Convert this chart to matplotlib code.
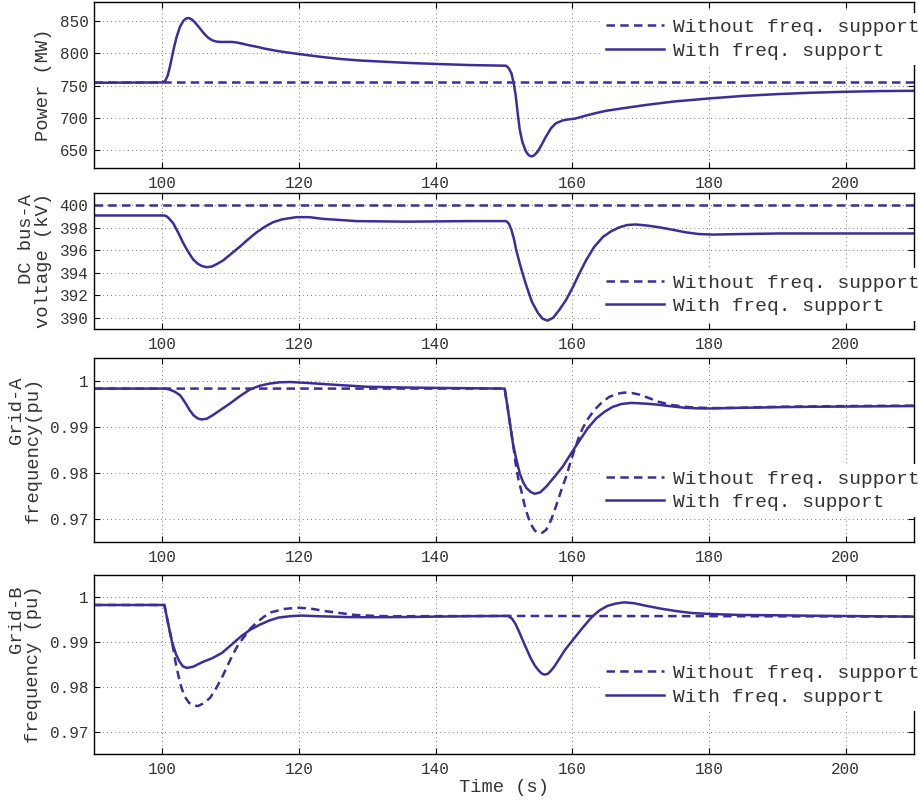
import numpy as np
import matplotlib
matplotlib.use("Agg")
import matplotlib.pyplot as plt
from matplotlib.ticker import FuncFormatter

plt.rcParams['font.family'] = ['Liberation Mono', 'DejaVu Sans Mono']

# data read from the reference
# panel 1: power (MW)
t_p_without = [90, 210]
p_without = [755, 755]
t_p_with = [90, 100, 100.4, 100.8, 101.1, 101.4, 101.7, 102.1, 102.6, 103.1, 103.5, 103.9,
            104.3, 104.8, 105.5, 106.1, 106.7, 107.3, 107.9, 108.7, 109.5, 110.3, 110.9, 111.8,
            112.8, 113.8, 115, 116.5, 118, 120.1, 123, 126, 129, 131.8, 136, 140.6, 145, 150.3,
            150.7, 151.1, 151.4, 151.7, 152, 152.3, 152.7, 153.2, 153.6, 154, 154.4, 154.9,
            155.4, 156.1, 156.9, 157.6, 158.6, 159.4, 160.3, 161, 162, 163.5, 165, 167.5, 170.8,
            175, 180.5, 185, 190.3, 195, 200, 205, 210]
p_with = [754.5, 755, 757, 766, 779, 794, 809, 826, 842, 851, 854.5, 855,
          853, 848, 839, 831, 824.5, 820.5, 818.5, 817.8, 818, 817.8, 817, 815,
          812.5, 810.5, 807.5, 804.5, 802, 799, 795, 791.5, 789, 787.5, 785.3, 783.5, 782, 781,
          777, 769, 755, 736, 708, 682, 662, 648, 642, 640, 641.5, 647,
          656, 670, 684, 691.5, 696, 697.5, 698.5, 700.5, 703.5, 707.5, 711, 715, 720,
          725.5, 730.5, 734, 737, 739, 740.5, 741.5, 742]

# panel 2: DC bus-A voltage (kV)
t_v_without = [90, 210]
v_without = [400, 400]
t_v_with = [90, 100.3, 100.7, 101.1, 101.6, 102.3, 103.1, 103.8, 104.5, 105.2, 105.8, 106.5,
            107.2, 107.9, 108.9, 110, 111.3, 112.5, 113.8, 115, 116.2, 117.5, 119.6, 121.5,
            123.5, 126, 128.4, 135.7, 145, 150.3, 150.7, 151.1, 151.5, 151.8, 152.5, 153.3,
            154.1, 155, 155.7, 156.4, 157.2, 158.1, 159.1, 160.1, 161, 162, 163.2, 164.5,
            165.7, 166.9, 168, 169.3, 171, 172.7, 174.5, 176.6, 178.5, 180.5, 185, 190.3, 210]
v_with = [399.1, 399.1, 399.0, 398.75, 398.4, 397.6, 396.6, 395.85, 395.2, 394.8, 394.6, 394.5,
          394.55, 394.75, 395.1, 395.65, 396.3, 396.95, 397.6, 398.1, 398.5, 398.75, 398.95, 398.95,
          398.8, 398.7, 398.6, 398.55, 398.6, 398.6, 398.4, 397.8, 396.9, 396.0, 394.4, 392.8,
          391.4, 390.4, 389.9, 389.75, 390.0, 390.7, 391.6, 392.75, 393.9, 395.1, 396.3, 397.2,
          397.7, 398.05, 398.25, 398.3, 398.2, 398.05, 397.85, 397.6, 397.45, 397.4, 397.45,
          397.5, 397.5]

# panel 3: grid-A frequency (pu)
t_fa_without = [90, 150.1, 150.5, 150.9, 151.3, 151.7, 152.1, 152.5, 153, 153.5, 154, 154.5,
                155, 155.6, 156.2, 156.9, 157.6, 158.4, 159.1, 159.7, 160.3, 160.9, 161.5,
                162.3, 163.2, 164.3, 165.4, 166.5, 167.6, 168.7, 169.8, 171.2, 172.7, 174.5,
                176.6, 178.5, 180.5, 185, 190, 200, 210]
fa_without = [0.99835, 0.99835, 0.9945, 0.9905, 0.9866, 0.9822, 0.9787, 0.97634, 0.9731,
              0.97056, 0.9687, 0.9675, 0.96697, 0.9670, 0.96768, 0.9698, 0.97273, 0.9763,
              0.97922, 0.9822, 0.985, 0.9875, 0.9897, 0.9918, 0.99366, 0.9953, 0.99654, 0.9972,
              0.99749, 0.9974, 0.99705, 0.9963, 0.99545, 0.9948, 0.99437, 0.9942, 0.9941,
              0.9942, 0.9944, 0.99455, 0.99465]
t_fa_with = [90, 100.5, 101.1, 101.8, 102.6, 103.3, 104, 104.6, 105.2, 105.7, 106.5, 107.4,
             108.6, 109.9, 111.3, 112.8, 114.2, 115.7, 117.2, 118.7, 121, 123, 125, 130, 135,
             140, 150.1, 150.5, 150.9, 151.3, 151.8, 152.3, 152.8, 153.3, 153.9, 154.5, 155.3,
             156.2, 157.4, 158.6, 159.8, 161.1, 162.3, 163.5, 164.7, 165.9, 167.2, 168.6,
             170.5, 172.3, 174.5, 176.6, 178.5, 180.1, 184.4, 190, 195, 210]
fa_with = [0.99835, 0.99835, 0.9981, 0.9977, 0.9969, 0.9954, 0.99366, 0.9925, 0.99185, 0.99164,
           0.9918, 0.99258, 0.9938, 0.99511, 0.99665, 0.99814, 0.99895, 0.99944, 0.99972,
           0.99978, 0.9996, 0.9994, 0.9992, 0.99875, 0.9986, 0.9985, 0.99835, 0.9945, 0.9905,
           0.98645, 0.9830, 0.97996, 0.9780, 0.97671, 0.9759, 0.97548, 0.9758, 0.97706, 0.9792,
           0.98139, 0.9842, 0.98716, 0.9898, 0.99186, 0.9933, 0.99437, 0.9950, 0.99524, 0.9951,
           0.99489, 0.9945, 0.99416, 0.99405, 0.99403, 0.99416, 0.9943, 0.9944, 0.99455]

# panel 4: grid-B frequency (pu)
t_fb_without = [90, 100.3, 100.8, 101.4, 102, 102.4, 102.8, 103.3, 103.9, 104.5, 105.2, 106,
                107, 107.8, 108.7, 109.5, 110.3, 111.1, 112, 112.8, 113.7, 114.8, 115.9, 117.8,
                119.8, 121.7, 123.7, 126, 128.2, 130.5, 133.2, 150, 180, 210]
fb_without = [0.9983, 0.9983, 0.9945, 0.9902, 0.98496, 0.9822, 0.97978, 0.9778, 0.97644,
              0.9759, 0.9757, 0.9763, 0.97756, 0.9795, 0.982, 0.9846, 0.98719, 0.9894, 0.99126,
              0.9929, 0.99422, 0.9956, 0.99667, 0.9974, 0.9977, 0.9975, 0.99696, 0.9965,
              0.99607, 0.9959, 0.99578, 0.99585, 0.9958, 0.9957]
t_fb_with = [90, 100.3, 100.8, 101.4, 102, 102.5, 103, 103.6, 104.5, 105.9, 107.3, 108.7,
             110.1, 111.5, 112.8, 114.2, 115.6, 117, 118.7, 120.4, 122.5, 124.9, 127, 130.4,
             135, 140, 145, 150.6, 151.2, 151.7, 152.2, 153, 153.9, 154.5, 155, 155.5, 155.9,
             156.4, 156.8, 157.3, 157.8, 158.9, 160.1, 161.5, 162.9, 164, 165.1, 166.3, 167.6,
             169, 170.7, 172.9, 175.1, 177.5, 180, 184.5, 190, 195, 210]
fb_with = [0.9983, 0.9983, 0.9945, 0.99015, 0.9873, 0.9857, 0.9846, 0.98422, 0.9845, 0.98556,
           0.9864, 0.98756, 0.9894, 0.99126, 0.9927, 0.99385, 0.9948, 0.99548, 0.9958, 0.99593,
           0.9958, 0.9957, 0.9956, 0.99556, 0.9956, 0.9957, 0.9958, 0.99585, 0.9952, 0.9940,
           0.99237, 0.9895, 0.98644, 0.9848, 0.9838, 0.9830, 0.98274, 0.9829, 0.9835, 0.9844,
           0.98556, 0.9882, 0.99052, 0.9932, 0.9957, 0.9971, 0.99807, 0.9986, 0.99889, 0.9987,
           0.99815, 0.9975, 0.99696, 0.9965, 0.9963, 0.99607, 0.996, 0.9959, 0.9957]

labels = ["Without freq. support", "With freq. support"]
ylabels = ["Power (MW)", "DC bus-A\nvoltage (kV)", "Grid-A\nfrequency(pu)", "Grid-B\nfrequency (pu)"]
yticks = [[650, 700, 750, 800, 850], [390, 392, 394, 396, 398, 400],
          [0.97, 0.98, 0.99, 1], [0.97, 0.98, 0.99, 1]]
ylims = [(622, 880), (389, 401.1), (0.965, 1.005), (0.965, 1.005)]
xticks = [100, 120, 140, 160, 180, 200]

series = [
    (t_p_without, p_without, t_p_with, p_with),
    (t_v_without, v_without, t_v_with, v_with),
    (t_fa_without, fa_without, t_fa_with, fa_with),
    (t_fb_without, fb_without, t_fb_with, fb_with),
]

# layout in figure fractions (bottom, height)
boxes = [(0.79, 0.2075), (0.58875, 0.17), (0.3225, 0.23), (0.0575, 0.22375)]
legend_y = [0.777, 0.254, 0.28, 0.385]
label_x = [-0.051, -0.051, -0.064, -0.064]

color = '#3b2e98'
txt = '#333333'

fig = plt.figure(figsize=(9.18, 8.0), dpi=100)

for i, (tw, yw, ts, ys) in enumerate(series):
    ax = fig.add_axes([0.1024, boxes[i][0], 0.8932, boxes[i][1]])
    ax.plot(tw, yw, color=color, lw=1.8, linestyle=(0, (3.4, 2.1)), label=labels[0])
    ax.plot(ts, ys, color=color, lw=1.8, label=labels[1])
    ax.set_xlim(90, 210)
    ax.set_ylim(*ylims[i])
    ax.set_xticks(xticks)
    ax.set_yticks(yticks[i])
    ax.yaxis.set_major_formatter(FuncFormatter(lambda v, p: '%g' % v))
    ax.grid(True, color='0.3', lw=0.6, linestyle=(0, (1, 4)))
    ax.tick_params(direction='in', top=True, right=True, length=4.5, width=0.8,
                   labelsize=11.5, colors='black', labelcolor=txt)
    ax.tick_params(axis='x', pad=6)
    ax.tick_params(axis='y', pad=4)
    for s in ax.spines.values():
        s.set_linewidth(1.0)
    ax.set_ylabel(ylabels[i], fontsize=13.5, color=txt, multialignment='right', linespacing=1.0)
    ax.yaxis.set_label_coords(label_x[i], 0.5)
    leg = ax.legend(loc='center left', bbox_to_anchor=(0.617, legend_y[i]), fontsize=14,
                    handlelength=3.0, handletextpad=0.45, labelspacing=0.3, borderpad=0.3,
                    borderaxespad=0, frameon=True, fancybox=False, framealpha=1)
    leg.get_frame().set_edgecolor('none')
    leg.get_frame().set_facecolor('white')
    for t in leg.get_texts():
        t.set_color(txt)
    if i == 3:
        ax.set_xlabel("Time (s)", fontsize=13.5, color=txt, labelpad=1)

fig.savefig("out.png", dpi=100)
